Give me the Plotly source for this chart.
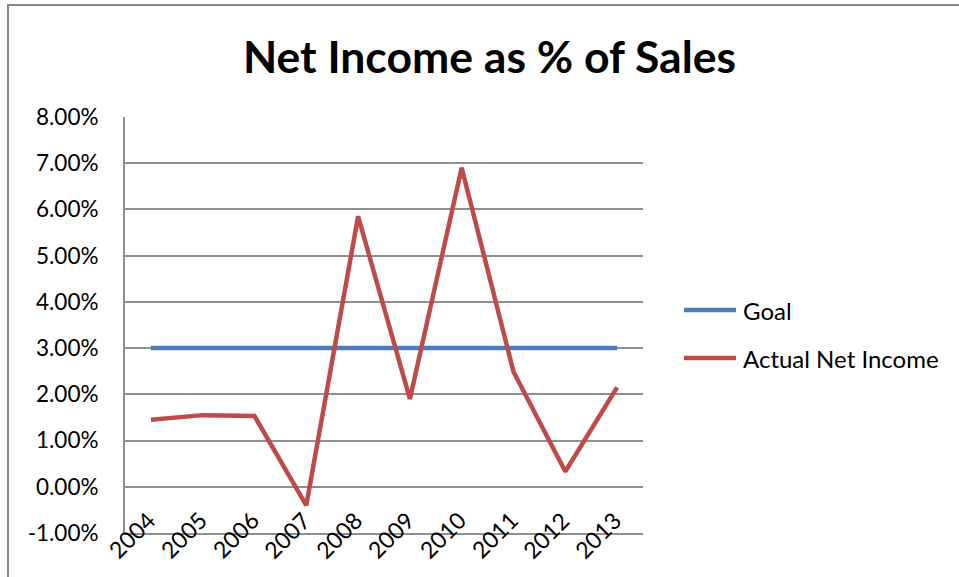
import plotly.graph_objects as go

# Net income as a share of sales, by fiscal year
years = ["2004", "2005", "2006", "2007", "2008", "2009", "2010", "2011", "2012", "2013"]
goal = [0.03] * 10
actual_net_income = [0.0145, 0.0155, 0.0153, -0.0040, 0.0585, 0.0190, 0.0690, 0.0249, 0.0033, 0.0215]
series_names = ["Goal", "Actual Net Income"]
series_colors = ["#4A7EBB", "#BE4B48"]
y_tick_values = [-0.01, 0.0, 0.01, 0.02, 0.03, 0.04, 0.05, 0.06, 0.07, 0.08]
y_tick_labels = ["-1.00%", "0.00%", "1.00%", "2.00%", "3.00%", "4.00%", "5.00%", "6.00%", "7.00%", "8.00%"]

W, H = 959, 577
L, R, T, B = 125, 316, 117, 44
plot_w = W - L - R
plot_h = H - T - B
FONT = "Lato, Carlito, Calibri, sans-serif"
GRID = "#8f8f8f"


def px_x(px):
    return (px - L) / plot_w


def px_y(py):
    return (H - B - py) / plot_h


fig = go.Figure()
for name, vals, color in zip(series_names, [goal, actual_net_income], series_colors):
    fig.add_trace(go.Scatter(
        x=years, y=vals, mode="lines", name=name,
        line=dict(color=color, width=4.5), showlegend=False,
    ))

# rotated year labels sitting on the category axis (positioned by category index)
annotations = []
for i, yr in enumerate(years):
    annotations.append(dict(
        x=i, y=-0.01, xref="x", yref="y", text=yr, showarrow=False,
        textangle=-45, xanchor="center", yanchor="middle",
        xshift=-19.5, yshift=-2,
        font=dict(family=FONT, size=23, color="#000000"),
    ))

# legend drawn to the right of the plot area
shapes = []
legend_rows = [310, 358]
for name, color, ly in zip(series_names, series_colors, legend_rows):
    shapes.append(dict(
        type="line", xref="paper", yref="paper",
        x0=px_x(684), x1=px_x(736), y0=px_y(ly), y1=px_y(ly),
        line=dict(color=color, width=4.5),
    ))
    annotations.append(dict(
        x=px_x(741), y=px_y(ly), xref="paper", yref="paper", text=name,
        showarrow=False, xanchor="left", yanchor="middle",
        font=dict(family=FONT, size=24, color="#000000"),
    ))

# chart frame
shapes.append(dict(
    type="rect", xref="paper", yref="paper", layer="below",
    x0=px_x(8), x1=px_x(990), y0=px_y(5), y1=px_y(600),
    line=dict(color="#878787", width=2), fillcolor="rgba(0,0,0,0)",
))

fig.update_layout(
    width=W, height=H,
    margin=dict(l=L, r=R, t=T, b=B),
    paper_bgcolor="white", plot_bgcolor="white",
    title=dict(
        text="<b>Net Income as % of Sales</b>",
        x=489.5 / W, xanchor="center", xref="container",
        y=1 - 57 / H, yanchor="middle", yref="container",
        font=dict(family=FONT, size=44.5, color="#000000"),
    ),
    xaxis=dict(
        type="category", range=[-0.5, 9.5], showticklabels=False,
        showgrid=False, showline=True, linecolor=GRID, linewidth=2,
        ticks="", zeroline=False, fixedrange=True,
    ),
    yaxis=dict(
        range=[-0.01, 0.08], tickmode="array",
        tickvals=y_tick_values, ticktext=y_tick_labels,
        showgrid=True, gridcolor=GRID, gridwidth=2,
        showline=True, linecolor=GRID, linewidth=2, zeroline=False,
        ticks="", ticklabelstandoff=20,
        tickfont=dict(family=FONT, size=22.5, color="#000000"),
    ),
    annotations=annotations, shapes=shapes,
    showlegend=False,
)

fig.write_html("out.html")
